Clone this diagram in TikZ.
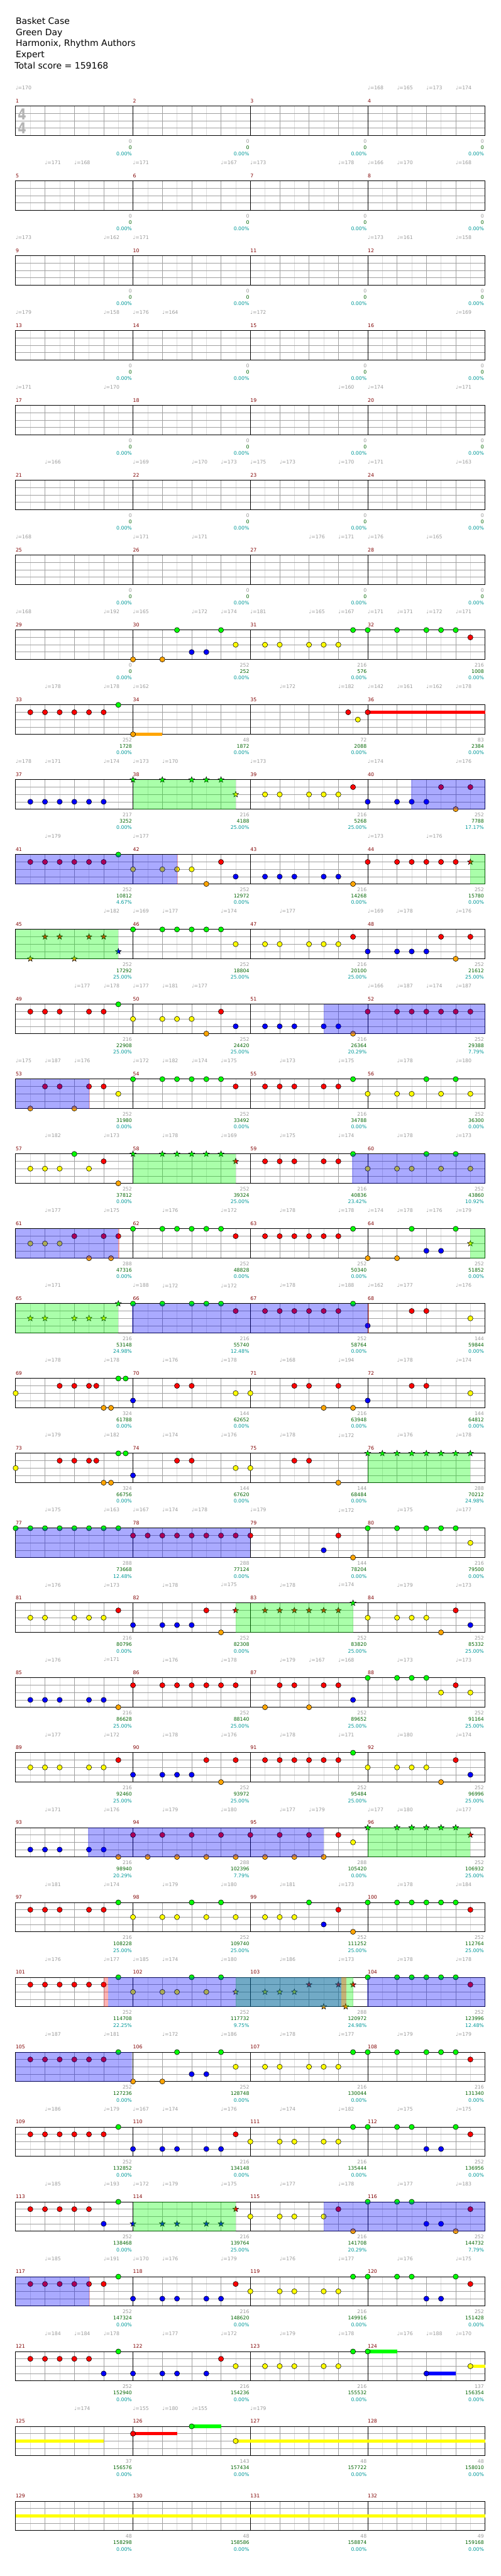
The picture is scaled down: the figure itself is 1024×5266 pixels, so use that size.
\documentclass[tikz,border=0pt]{standalone}
\usepackage{fontspec}
\setmainfont{DejaVu Sans}
\definecolor{lane0}{HTML}{00FF00}
\definecolor{lane1}{HTML}{FF0000}
\definecolor{lane2}{HTML}{FFFF00}
\definecolor{lane3}{HTML}{0000FF}
\definecolor{lane4}{HTML}{FFA500}
\definecolor{cBar}{HTML}{800000}
\definecolor{cPts}{HTML}{999999}
\definecolor{cTot}{HTML}{006400}
\definecolor{cPct}{HTML}{009999}
\definecolor{cBeat}{HTML}{A0A0A0}
\definecolor{cEighth}{HTML}{DCDCDC}
\definecolor{cSig}{HTML}{B4B4B4}

% row r: staff top at 217+153r, eighth e at 32+30e, lane l at +15l
\newcommand\starpath{(90:6.2pt) -- (126:2.6pt) -- (162:6.2pt) -- (198:2.6pt) -- (234:6.2pt) -- (270:2.6pt) -- (306:6.2pt) -- (342:2.6pt) -- (18:6.2pt) -- (54:2.6pt) -- cycle}
\newcommand\gems[3]{\foreach \ev in {#3}{\draw[gem, fill=lane#2] ({32+30*\ev},{217+153*#1+15*#2}) circle (5.3);}}
\newcommand\stars[3]{\foreach \ev in {#3}{\draw[gem, fill=lane#2, shift={({32+30*\ev},{217+153*#1+15*#2})}] \starpath;}}
\newcommand\sus[4]{\fill[lane#2] ({32+30*#3},{217+153*#1+15*#2-3.3}) rectangle ({32+30*#4},{217+153*#1+15*#2+3.3});}
\newcommand\spzone[3]{\fill[spfill] ({32+30*#2},{217+153*#1}) rectangle ({32+30*#3},{277+153*#1});}
\newcommand\odzone[3]{\fill[odfill] ({32+30*#2},{217+153*#1}) rectangle ({32+30*#3},{277+153*#1});}
\newcommand\odmark[3]{\fill[odedge] ({32+30*#2},{217+153*#1}) rectangle ({32+30*#3},{277+153*#1});}
\newcommand\score[4]{%
  \pgfmathtruncatemacro\rw{(#1-1)/4}%
  \pgfmathtruncatemacro\col{#1-1-4*\rw}%
  \node[pts] (pts#1) at ({270+240*\col},{289+153*\rw}) {#2};
  \node[tot] (tot#1) at ({270+240*\col},{302+153*\rw}) {#3};
  \node[pct] (pct#1) at ({270+240*\col},{315+153*\rw}) {#4\%};
}

\begin{document}
\begin{tikzpicture}[x=1pt, y=-1pt,
    staff/.style={draw=black, line width=1.2pt},
    bar/.style={draw=black, line width=0.8pt},
    beat/.style={draw=cBeat, line width=0.9pt},
    eighth/.style={draw=cEighth, line width=0.9pt},
    gem/.style={draw=black, line width=0.7pt},
    spfill/.style={fill=green, fill opacity=0.333},
    odfill/.style={fill=blue, fill opacity=0.333},
    odedge/.style={fill=red, fill opacity=0.3},
    head/.style={anchor=base west, inner sep=0, font=\fontsize{18}{22}\selectfont},
    txt/.style={inner sep=0, font=\fontsize{10}{12}\selectfont},
    mnum/.style={txt, anchor=west, text=cBar},
    pts/.style={txt, anchor=east, text=cPts},
    tot/.style={txt, anchor=east, text=cTot},
    pct/.style={txt, anchor=east, text=cPct},
    bpm/.style={txt, anchor=west, text=cPts},
    meter/.style={inner sep=0, xscale=0.8, font=\fontsize{31}{31}\selectfont\bfseries, text=cSig},
]
\fill[white] (0,0) rectangle (1024,5266);
\useasboundingbox (0,0) rectangle (1024,5266);

% === HEADER ===
\node[head] (song) at (32,49) {Basket Case};
\node[head] (band) at (32,72) {Green Day};
\node[head] (authors) at (32,95) {Harmonix, Rhythm Authors};
\node[head] (level) at (32,118) {Expert};
\node[head] (total) at (30,141) {Total score = 159168};

% === STAFF GRID: 33 rows of 4 measures ===
\foreach \rw in {0,...,32}{
  \foreach \ev in {1,3,...,31}
    \draw[eighth] ({32+30*\ev},{217+153*\rw}) -- ++(0,60);
  \foreach \ev in {2,4,6,10,12,14,18,20,22,26,28,30}
    \draw[beat] ({32+30*\ev},{217+153*\rw}) -- ++(0,60);
  \foreach \ev in {1,2,3}
    \draw[beat] (32,{217+153*\rw+15*\ev}) -- ++(960,0);
  \foreach \ev in {8,16,24}
    \draw[bar] ({32+30*\ev},{217+153*\rw}) -- ++(0,60);
  \draw[staff] (32,{217+153*\rw}) rectangle ++(960,60);
}
\node[meter] (sigtop) at (45,233) {4};
\node[meter] (sigbot) at (45,262) {4};

% === MEASURE NUMBERS ===
\foreach \ms in {1,...,132}{
  \pgfmathtruncatemacro\rw{(\ms-1)/4}
  \pgfmathtruncatemacro\col{\ms-1-4*\rw}
  \node[mnum] (bar\ms) at ({32+240*\col},{206+153*\rw}) {\ms};
}

% === TEMPO MARKS (row/beat/bpm) ===
\foreach \rw/\bt/\bp in {0/0/170, 0/12/168, 0/13/165, 0/14/173, 0/15/174,
  1/1/171, 1/2/168, 1/4/171, 1/7/167, 1/8/173, 1/11/178, 1/12/166, 1/13/170, 1/15/168,
  2/0/173, 2/3/162, 2/4/171, 2/12/173, 2/13/161, 2/15/158,
  3/0/179, 3/3/158, 3/4/176, 3/5/164, 3/8/172, 3/15/169,
  4/0/171, 4/3/170, 4/11/160, 4/12/174, 4/15/171,
  5/1/166, 5/4/169, 5/6/170, 5/7/173, 5/8/175, 5/9/173, 5/11/170, 5/12/171, 5/15/163,
  6/0/168, 6/4/171, 6/6/171, 6/10/176, 6/11/171, 6/12/176, 6/14/165,
  7/0/168, 7/3/192, 7/4/165, 7/6/172, 7/7/174, 7/8/181, 7/10/165, 7/11/167, 7/12/171, 7/13/171, 7/14/172, 7/15/171,
  8/1/178, 8/3/178, 8/4/162, 8/9/172, 8/11/182, 8/12/142, 8/13/161, 8/14/162, 8/15/178,
  9/0/178, 9/1/171, 9/3/174, 9/4/173, 9/5/170, 9/8/173, 9/12/174, 9/15/176,
  10/1/179, 10/4/177, 10/12/173, 10/14/176,
  11/3/182, 11/4/169, 11/5/177, 11/7/174, 11/9/177, 11/12/169, 11/13/178, 11/15/176,
  12/2/177, 12/3/178, 12/4/177, 12/5/181, 12/6/177, 12/12/166, 12/13/187, 12/14/174, 12/15/187,
  13/0/175, 13/1/187, 13/2/176, 13/4/172, 13/5/182, 13/6/174, 13/7/175, 13/9/173, 13/11/175, 13/13/178, 13/15/180,
  14/1/182, 14/3/173, 14/5/178, 14/7/169, 14/9/175, 14/11/174, 14/13/178, 14/15/173,
  15/1/177, 15/3/175, 15/5/176, 15/7/172, 15/9/178, 15/11/178, 15/12/174, 15/13/178, 15/14/176, 15/15/179,
  16/1/171, 16/4/188, 16/5/172, 16/7/172, 16/9/178, 16/11/188, 16/12/162, 16/13/177, 16/15/176,
  17/1/178, 17/3/178, 17/5/176, 17/7/178, 17/9/168, 17/11/194, 17/13/178, 17/15/174,
  18/1/179, 18/3/182, 18/5/174, 18/7/176, 18/9/178, 18/11/172, 18/13/176, 18/15/178,
  19/1/175, 19/3/163, 19/4/167, 19/5/174, 19/6/178, 19/8/179, 19/11/172, 19/13/175, 19/15/177,
  20/1/176, 20/3/173, 20/5/178, 20/7/175, 20/9/178, 20/11/174, 20/13/179, 20/15/173,
  21/1/176, 21/3/171, 21/5/176, 21/7/178, 21/9/179, 21/10/167, 21/11/168, 21/13/173, 21/15/173,
  22/1/177, 22/3/172, 22/5/178, 22/7/176, 22/9/178, 22/11/171, 22/13/180, 22/15/174,
  23/1/171, 23/3/176, 23/5/179, 23/7/180, 23/9/177, 23/10/179, 23/12/177, 23/13/180, 23/15/177,
  24/1/181, 24/3/174, 24/5/179, 24/7/180, 24/9/181, 24/11/173, 24/13/178, 24/15/184,
  25/1/176, 25/3/177, 25/4/185, 25/5/174, 25/7/180, 25/9/186, 25/11/173, 25/13/178, 25/15/178,
  26/1/187, 26/3/181, 26/5/172, 26/7/186, 26/9/178, 26/11/177, 26/13/179, 26/15/179,
  27/1/186, 27/3/179, 27/4/167, 27/5/174, 27/7/176, 27/9/174, 27/11/182, 27/13/175, 27/15/175,
  28/1/185, 28/3/193, 28/4/172, 28/5/179, 28/7/175, 28/9/177, 28/11/178, 28/13/177, 28/15/183,
  29/1/185, 29/3/191, 29/4/170, 29/5/176, 29/7/179, 29/9/176, 29/11/177, 29/13/176, 29/15/175,
  30/1/184, 30/2/184, 30/3/178, 30/5/177, 30/7/172, 30/9/179, 30/11/178, 30/13/176, 30/14/188, 30/15/170,
  31/2/174, 31/4/155, 31/5/180, 31/6/155, 31/8/179}
  \node[bpm] (bpm\rw-\bt) at ({32+60*\bt},{180+153*\rw}) {♩=\bp};

% === SCORES PER MEASURE ===
\foreach \ms in {1,...,28}{\score{\ms}{0}{0}{0.00}}
\foreach \ms/\sg/\sc/\sq in {29/0/0/0.00, 30/252/252/0.00, 31/216/576/0.00, 32/216/1008/0.00,
  33/252/1728/0.00, 34/48/1872/0.00, 35/72/2088/0.00, 36/83/2384/0.00,
  37/217/3252/0.00, 38/216/4188/25.00, 39/216/5268/25.00, 40/252/7788/17.17,
  41/252/10812/4.67, 42/252/12972/0.00, 43/216/14268/0.00, 44/252/15780/0.00,
  45/252/17292/25.00, 46/252/18804/25.00, 47/216/20100/25.00, 48/252/21612/25.00,
  49/216/22908/25.00, 50/252/24420/25.00, 51/216/26364/20.29, 52/252/29388/7.79,
  53/252/31980/0.00, 54/252/33492/0.00, 55/216/34788/0.00, 56/252/36300/0.00,
  57/252/37812/0.00, 58/252/39324/25.00, 59/216/40836/23.42, 60/252/43860/10.92,
  61/288/47316/0.00, 62/252/48828/0.00, 63/252/50340/0.00, 64/252/51852/0.00,
  65/216/53148/24.98, 66/216/55740/12.48, 67/252/58764/0.00, 68/144/59844/0.00,
  69/324/61788/0.00, 70/144/62652/0.00, 71/216/63948/0.00, 72/144/64812/0.00,
  73/324/66756/0.00, 74/144/67620/0.00, 75/144/68484/0.00, 76/288/70212/24.98,
  77/288/73668/12.48, 78/288/77124/0.00, 79/144/78204/0.00, 80/216/79500/0.00,
  81/216/80796/0.00, 82/252/82308/0.00, 83/252/83820/25.00, 84/252/85332/25.00,
  85/216/86628/25.00, 86/252/88140/25.00, 87/252/89652/25.00, 88/252/91164/25.00,
  89/216/92460/25.00, 90/252/93972/25.00, 91/252/95484/25.00, 92/252/96996/25.00,
  93/216/98940/20.29, 94/288/102396/7.79, 95/288/105420/0.00, 96/252/106932/25.00,
  97/216/108228/25.00, 98/252/109740/25.00, 99/252/111252/25.00, 100/252/112764/25.00,
  101/252/114708/22.25, 102/252/117732/9.75, 103/288/120972/24.98, 104/252/123996/12.48,
  105/252/127236/0.00, 106/252/128748/0.00, 107/216/130044/0.00, 108/216/131340/0.00,
  109/252/132852/0.00, 110/216/134148/0.00, 111/216/135444/0.00, 112/252/136956/0.00,
  113/252/138468/0.00, 114/216/139764/25.00, 115/216/141708/20.29, 116/252/144732/7.79,
  117/252/147324/0.00, 118/216/148620/0.00, 119/216/149916/0.00, 120/252/151428/0.00,
  121/252/152940/0.00, 122/216/154236/0.00, 123/216/155532/0.00, 124/137/156354/0.00,
  125/37/156576/0.00, 126/143/157434/0.00, 127/48/157722/0.00, 128/48/158010/0.00,
  129/48/158298/0.00, 130/48/158586/0.00, 131/48/158874/0.00, 132/49/159168/0.00}
  {\score{\ms}{\sg}{\sc}{\sq}}

% === NOTES: \gems{row}{lane}{eighths} ===
% m29-32
\gems{7}{0}{11,14,23,24,26,28,29,30}
\gems{7}{1}{31}
\gems{7}{2}{15,17,18,20,21,22}
\gems{7}{3}{12,13}
\gems{7}{4}{8,10}
% m33-36
\sus{8}{4}{8}{10}
\sus{8}{1}{24}{32}
\gems{8}{0}{7}
\gems{8}{1}{1,2,3,4,5,6,22.67,24}
\gems{8}{2}{23.33}
\gems{8}{4}{8}
% m37-40
\gems{9}{1}{23,29,31}
\gems{9}{2}{17,18,20,21,22}
\gems{9}{3}{1,2,3,4,5,6,24,26,27,28}
\gems{9}{4}{30}
\stars{9}{0}{8,10,12,13,14}
\stars{9}{2}{15}
\spzone{9}{8}{15}
\odzone{9}{26.95}{32}
% m41-44
\gems{10}{0}{7}
\gems{10}{1}{1,2,3,4,5,6,14,24,26,27,28,29,30}
\gems{10}{2}{8,10,11,12}
\gems{10}{3}{15,17,18,19,21,22}
\gems{10}{4}{13,23}
\stars{10}{1}{31}
\odmark{10}{11}{11.07}
\odzone{10}{0}{11}
\spzone{10}{31}{32}
% m45-48
\gems{11}{0}{8,10,11,12,13,14}
\gems{11}{1}{23,29,31}
\gems{11}{2}{15,17,18,20,21,22}
\gems{11}{3}{24,26,27,28}
\gems{11}{4}{30}
\stars{11}{1}{2,3,5,6}
\stars{11}{3}{7}
\stars{11}{4}{1,4}
\spzone{11}{0}{7}
% m49-52
\gems{12}{0}{7}
\gems{12}{1}{1,2,3,5,6,14,24,26,27,28,29,30,31}
\gems{12}{2}{8,10,11,12}
\gems{12}{3}{15,17,18,19,21,22}
\gems{12}{4}{13,23}
\odzone{12}{21}{32}
% m53-56
\gems{13}{0}{8,10,11,12,13,14,23,28,30}
\gems{13}{1}{2,3,5,6,15,17,18,19,21,22}
\gems{13}{2}{7,24,26,27,29,31}
\gems{13}{4}{1,4}
\odmark{13}{5}{5.07}
\odzone{13}{0}{5}
% m57-60
\gems{14}{0}{4,23,28,30}
\gems{14}{1}{6,17,18,19,21,22}
\gems{14}{2}{1,2,3,5,24,26,27,29,31}
\gems{14}{4}{7}
\stars{14}{0}{8,10,11,12,13,14}
\stars{14}{1}{15}
\spzone{14}{8}{15}
\odzone{14}{22.95}{32}
% m61-64
\gems{15}{0}{8,10,11,12,13,14,23,27,30}
\gems{15}{1}{4,6,7,15,17,18,19,20,21,22}
\gems{15}{2}{1,2,3}
\gems{15}{3}{28,29}
\gems{15}{4}{5,6.5,24,26}
\stars{15}{2}{31}
\odmark{15}{7}{7.07}
\odzone{15}{0}{7}
\spzone{15}{31}{32}
% m65-68
\gems{16}{0}{8,10,12,13,14,23}
\gems{16}{1}{15,17,18,19,20,21,22,27,28}
\gems{16}{2}{31}
\gems{16}{3}{24}
\stars{16}{0}{7}
\stars{16}{2}{1,2,4,5,6}
\spzone{16}{0}{7}
\odmark{16}{24}{24.07}
\odzone{16}{7.95}{24}
% m69-72
\gems{17}{0}{7,7.5}
\gems{17}{1}{3,4,5,5.5,11,12,19,20,22,27,28}
\gems{17}{2}{0,15,16,31}
\gems{17}{3}{8,24}
\gems{17}{4}{6,6.5,21,23}
% m73-76
\gems{18}{0}{7,7.5}
\gems{18}{1}{3,4,5,5.5,11,12,19,20}
\gems{18}{2}{0,15,16}
\gems{18}{3}{8}
\gems{18}{4}{6,6.5,22}
\stars{18}{0}{24,25,26,27,28,29,30,31}
\spzone{18}{24}{31}
% m77-80
\gems{19}{0}{0,1,2,3,4,5,6,7,24,26,28,29,30}
\gems{19}{1}{8,9,10,11,12,13,14,15,16,22}
\gems{19}{2}{31}
\gems{19}{3}{21}
\gems{19}{4}{23}
\odzone{19}{0}{16}
% m81-84
\gems{20}{1}{7,13,30}
\gems{20}{2}{1,2,4,5,6,24,26,27,28}
\gems{20}{3}{8,10,11,12,31}
\gems{20}{4}{14,29}
\stars{20}{1}{15,17,18,19,20,21,22}
\stars{20}{0}{23}
\spzone{20}{15}{23}
% m85-88
\gems{21}{0}{24,26,27,28}
\gems{21}{1}{8,10,11,12,13,14,15,18,19,21,22,30}
\gems{21}{2}{29,31}
\gems{21}{3}{1,2,3,5,6,23}
\gems{21}{4}{7,17,20}
% m89-92
\gems{22}{0}{23}
\gems{22}{1}{7,13,15,17,18,19,20,21,22,30}
\gems{22}{2}{1,2,3,5,6,24,26,27,28}
\gems{22}{3}{8,10,11,12,31}
\gems{22}{4}{14,29}
% m93-96
\gems{23}{1}{8,10,12,14,16,18,20,22}
\gems{23}{2}{23}
\gems{23}{3}{1,2,3,5,6}
\gems{23}{4}{7,9,11,13,15,17,19,21}
\stars{23}{0}{24,26,27,28,29,30}
\stars{23}{1}{31}
\odzone{23}{4.95}{21}
\spzone{23}{24}{31}
% m97-100
\gems{24}{0}{7,12,14,20,24,26,27,28,29,30}
\gems{24}{1}{1,2,3,5,6,22,31}
\gems{24}{2}{8,10,11,13,15,17,18,19}
\gems{24}{3}{21}
\gems{24}{4}{23}
% m101-104 (phrase under the overdrive zone)
\gems{25}{0}{7,12,14,24,26,27,28,29,30}
\gems{25}{1}{1,2,3,4,5,6,31}
\gems{25}{2}{8,10,11,13}
\stars{25}{1}{20,22,23}
\stars{25}{2}{15,17,18,19}
\stars{25}{4}{21,22.5}
\spzone{25}{15}{23}
\odmark{25}{6}{6.3}
\odmark{25}{22.2}{22.55}
\odzone{25}{6.3}{22.2}
\odzone{25}{23.95}{32}
% m105-108
\gems{26}{0}{7,11,14,23,24,26,28,29,30}
\gems{26}{1}{1,2,3,4,5,6,31}
\gems{26}{2}{15,17,18,20,21,22}
\gems{26}{3}{12,13}
\gems{26}{4}{8,10}
\odzone{26}{0}{7.95}
% m109-112
\gems{27}{0}{7,23,24,26,27,30}
\gems{27}{1}{1,2,3,4,5,6,15,31}
\gems{27}{2}{16,18,19,21,22}
\gems{27}{3}{8,10,11,13,14,28,29}
% m113-116
\gems{28}{0}{7,24,26,27}
\gems{28}{1}{1,2,3,4,5,22,31}
\gems{28}{2}{16,18,19,21}
\gems{28}{3}{6,28,29}
\gems{28}{4}{23,30}
\stars{28}{3}{8,10,11,13,14}
\stars{28}{1}{15}
\spzone{28}{8}{15}
\odzone{28}{21}{32}
% m117-120
\gems{29}{0}{7,23,24,26,27,30}
\gems{29}{1}{1,2,3,4,5,6,15,31}
\gems{29}{2}{16,18,19,21,22}
\gems{29}{3}{8,10,11,13,14,28,29}
\odmark{29}{5}{5.07}
\odzone{29}{0}{5}
% m121-124
\sus{30}{0}{24}{26}
\sus{30}{3}{28}{30}
\sus{30}{2}{31}{32}
\gems{30}{0}{7,23,24}
\gems{30}{1}{1,2,3,4,5,14}
\gems{30}{2}{15,17,18,19,21,22,31}
\gems{30}{3}{6,8,10,11,13,28}
% m125-128
\sus{31}{2}{0}{6}
\sus{31}{1}{8}{11}
\sus{31}{0}{12}{14}
\sus{31}{2}{15}{32}
\gems{31}{1}{8}
\gems{31}{0}{12}
\gems{31}{2}{15}
% m129-132
\sus{32}{2}{0}{32}

\end{tikzpicture}
\end{document}
